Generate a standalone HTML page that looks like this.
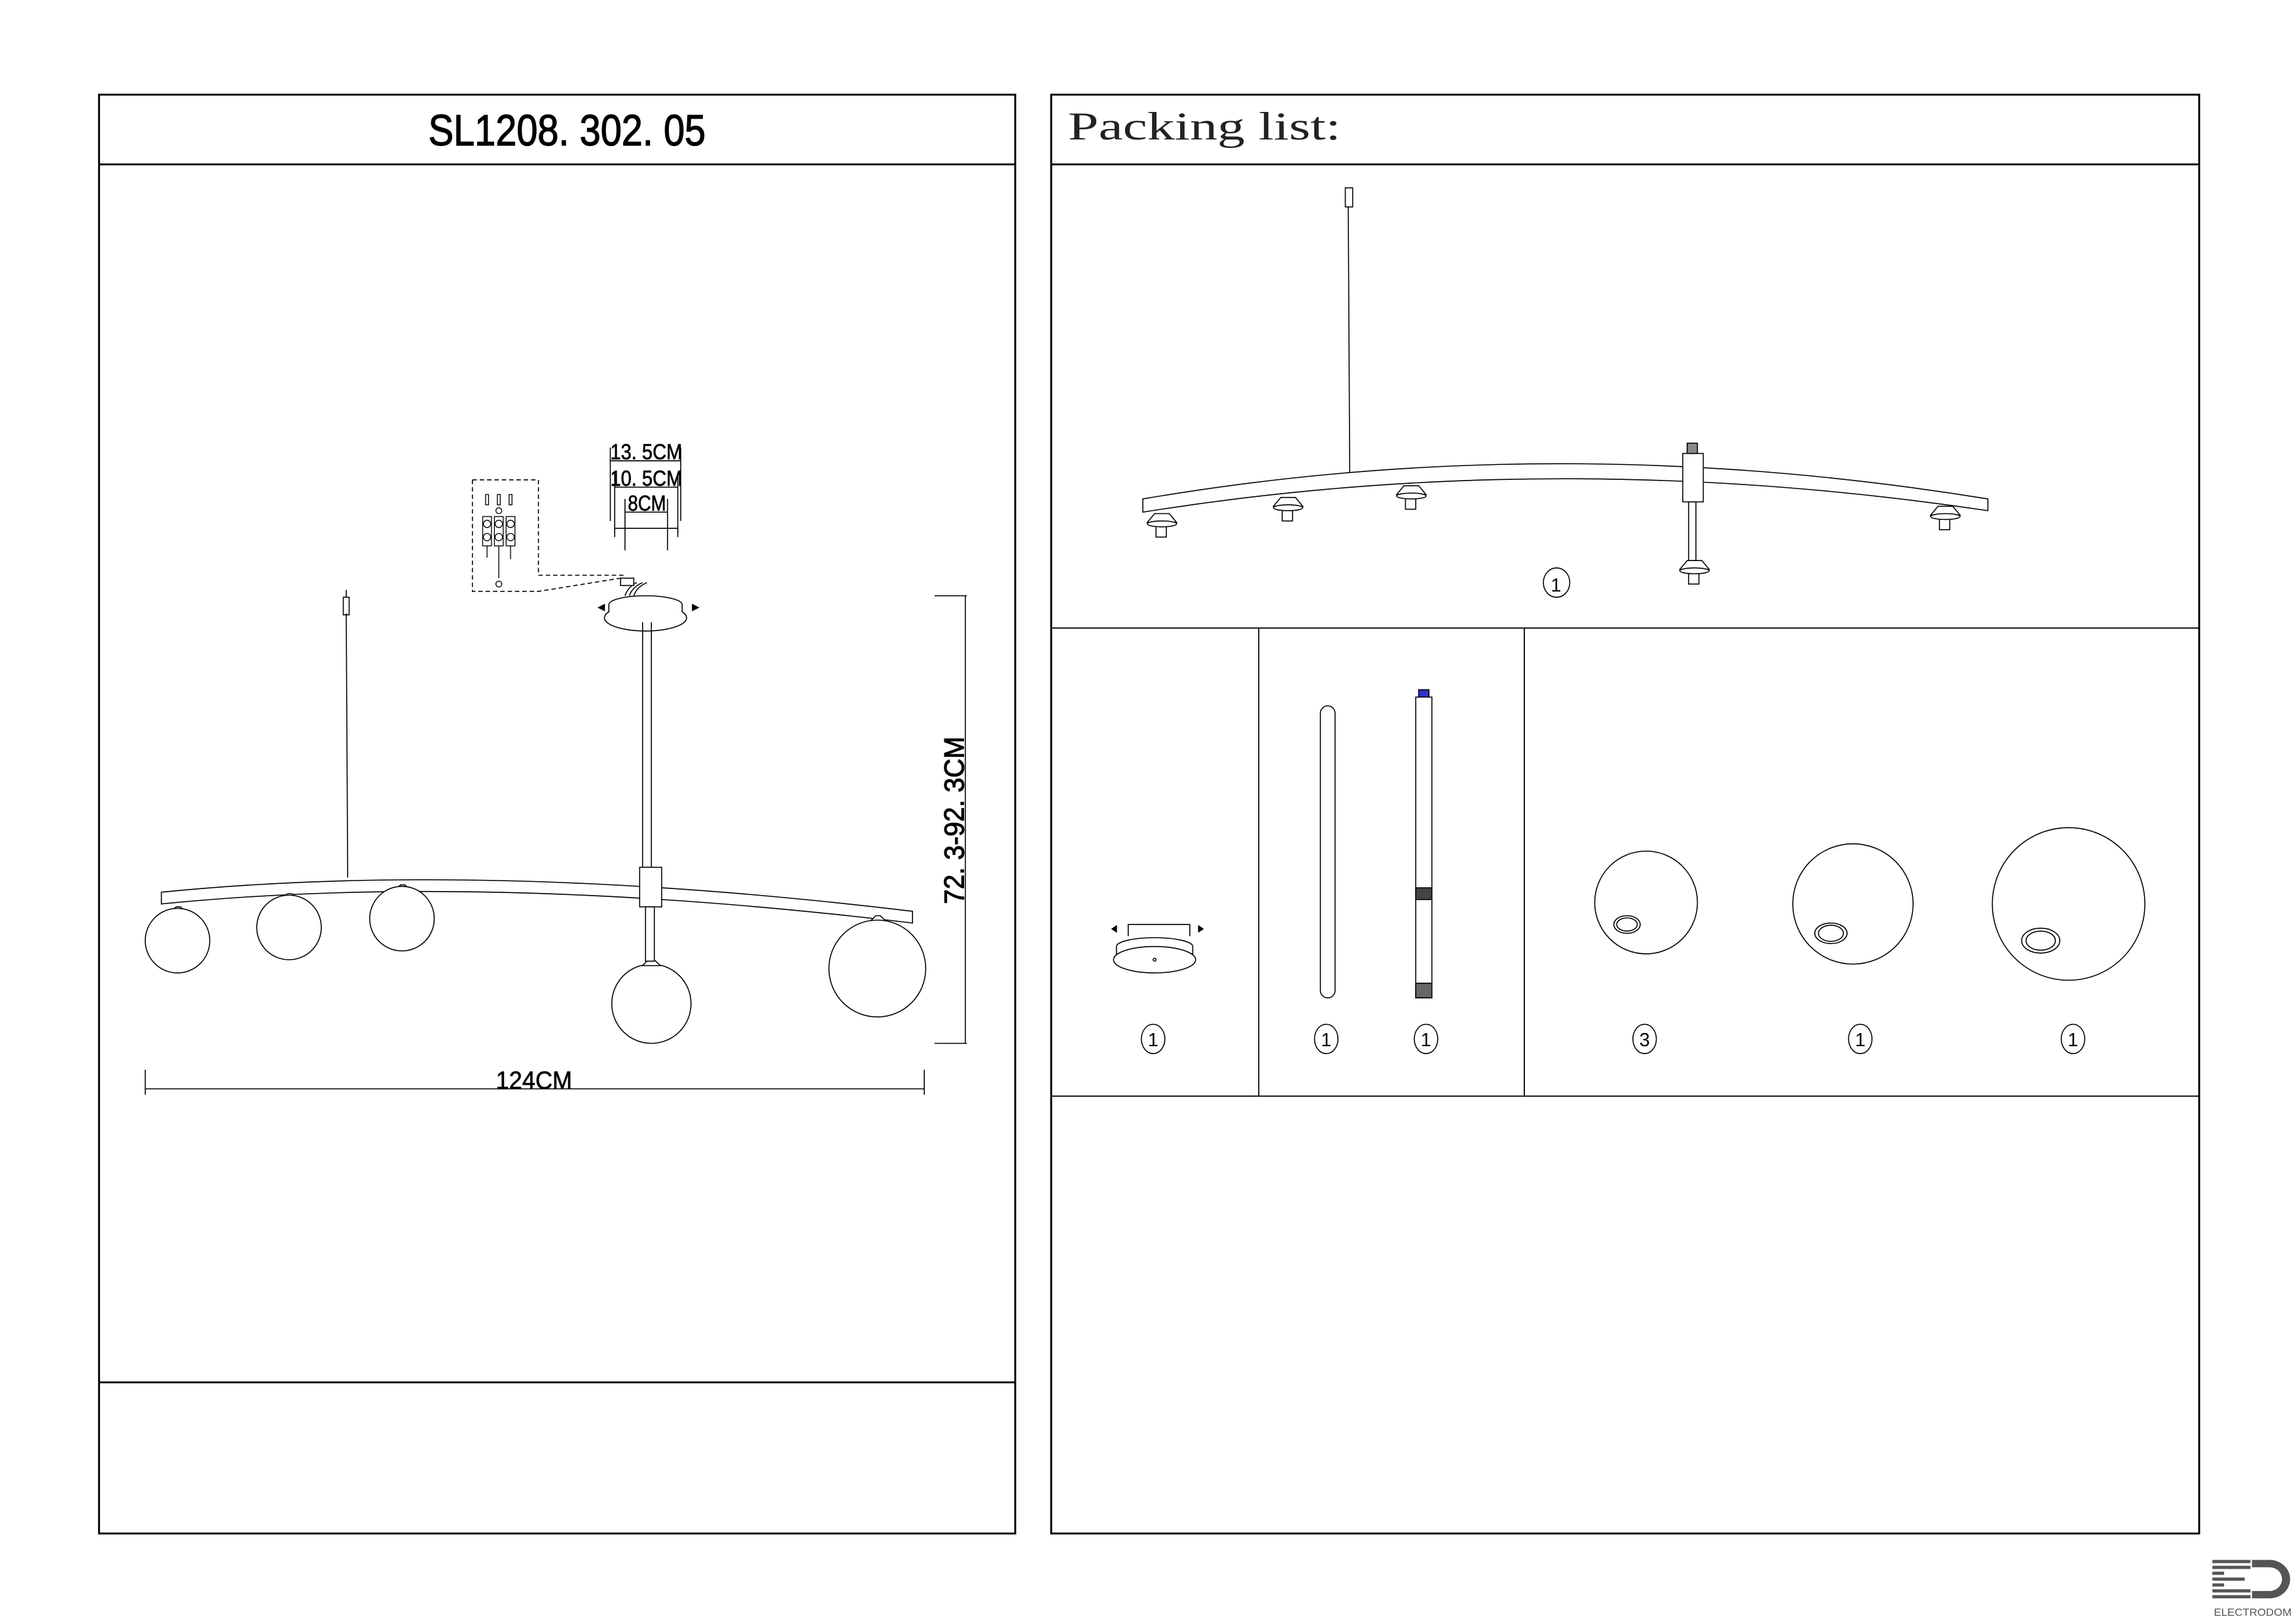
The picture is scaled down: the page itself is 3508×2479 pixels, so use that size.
<!DOCTYPE html>
<html><head><meta charset="utf-8"><style>
html,body{margin:0;padding:0;background:#fff;width:3508px;height:2479px;overflow:hidden}
svg{display:block}
text{font-family:"Liberation Sans",sans-serif}
</style></head><body>
<svg width="3508" height="2479" viewBox="0 0 1565 1106" preserveAspectRatio="none" xmlns="http://www.w3.org/2000/svg">
<g fill="none" stroke="#000" stroke-width="1.3">
<rect x="67.5" y="64.5" width="624.5" height="980.5"/>
<line x1="67.5" y1="112" x2="692" y2="112"/>
<line x1="67.5" y1="942" x2="692" y2="942"/>
<rect x="716.5" y="64.5" width="782.5" height="980.5"/>
<line x1="716.5" y1="112" x2="1499" y2="112"/>
<line x1="716.5" y1="428" x2="1499" y2="428" stroke-width="0.8"/>
<line x1="716.5" y1="747" x2="1499" y2="747" stroke-width="0.8"/>
<line x1="858" y1="428" x2="858" y2="747" stroke-width="0.8"/>
<line x1="1039" y1="428" x2="1039" y2="747" stroke-width="0.8"/>
</g>
<text x="292" y="99" font-size="30" stroke="#000" stroke-width="0.6" textLength="189" lengthAdjust="spacingAndGlyphs">SL1208. 302. 05</text>
<text x="728" y="95" font-size="27" fill="#222" textLength="186" lengthAdjust="spacingAndGlyphs" style="font-family:'Liberation Serif',serif">Packing list:</text>

<!-- LEFT DRAWING -->
<g fill="none" stroke="#000" stroke-width="0.7">
<line x1="236" y1="418" x2="237" y2="598"/>
<rect x="234" y="407" width="4" height="12"/>
<line x1="236" y1="402" x2="236" y2="407"/>
<path d="M110 608 Q330 586 622 621 L622 629 Q330 594 110 616 Z" fill="#fff"/>
<g fill="#fff">
<path d="M116 622 l4 -4 h3 l4 4 z"/><circle cx="121" cy="641" r="22"/>
<path d="M192 613 l4 -4 h3 l4 4 z"/><circle cx="197" cy="632" r="22"/>
<path d="M269 607 l4 -4 h3 l4 4 z"/><circle cx="274" cy="626" r="22"/>
<path d="M593 628 l4 -4 h3 l4 4 z"/><circle cx="598" cy="660" r="33"/>
<circle cx="444" cy="684" r="27"/>
<path d="M438 658 l4 -4 h4 l4 4 z"/>
</g>
<rect x="438" y="424" width="6" height="167" fill="#fff"/>
<rect x="436" y="591" width="15" height="27" fill="#fff"/>
<rect x="440" y="618" width="6" height="37" fill="#fff"/>
<ellipse cx="440" cy="421" rx="28" ry="9" fill="#fff"/>
<path d="M415 417 v-5 a25 6 0 0 1 50 0 v5" fill="#fff"/>
<line x1="438" y1="424" x2="438" y2="436"/><line x1="444" y1="424" x2="444" y2="436"/>
<path d="M426 406 q2 -6 8 -9 M429 406 q2 -6 9 -9 M432 406 q2 -6 9 -9"/>
<rect x="423" y="394" width="9" height="5" fill="#fff"/>
<path d="M412 412 l-4 2 4 2 z M472 412 l4 2 -4 2 z" fill="#000"/>
<path d="M322 327 h45 v65 h58 M322 327 v76 h45 l56 -9" stroke-dasharray="3 2"/>
<g stroke-width="0.6">
<rect x="329" y="352" width="6" height="20"/><rect x="337" y="352" width="6" height="20"/><rect x="345" y="352" width="6" height="20"/>
<circle cx="332" cy="357" r="2.5"/><circle cx="340" cy="357" r="2.5"/><circle cx="348" cy="357" r="2.5"/>
<circle cx="332" cy="366" r="2.5"/><circle cx="340" cy="366" r="2.5"/><circle cx="348" cy="366" r="2.5"/>
<rect x="331" y="337" width="2" height="7"/><rect x="339" y="337" width="2" height="7"/><rect x="347" y="337" width="2" height="7"/>
<circle cx="340" cy="348" r="2"/><circle cx="340" cy="398" r="2"/>
<line x1="332" y1="372" x2="332" y2="380"/><line x1="340" y1="372" x2="340" y2="394"/><line x1="348" y1="372" x2="348" y2="381"/>
</g>
<g stroke-width="0.7">
<line x1="416" y1="314" x2="464" y2="314"/>
<line x1="419" y1="332" x2="462" y2="332"/>
<line x1="426" y1="349" x2="455" y2="349"/>
<line x1="416" y1="305" x2="416" y2="355"/><line x1="464" y1="305" x2="464" y2="355"/>
<line x1="419" y1="322" x2="419" y2="363"/><line x1="462" y1="322" x2="462" y2="363"/>
<line x1="426" y1="340" x2="426" y2="375"/><line x1="455" y1="340" x2="455" y2="375"/>
<path d="M419 366 v-6 h43 v6"/>
</g>
<line x1="658" y1="406" x2="658" y2="711"/>
<line x1="637" y1="406" x2="659" y2="406"/>
<line x1="637" y1="711" x2="659" y2="711"/>
<line x1="99" y1="742" x2="630" y2="742"/>
<line x1="99" y1="729" x2="99" y2="746"/>
<line x1="630" y1="729" x2="630" y2="746"/>
</g>
<g font-size="15" stroke="#000" stroke-width="0.3">
<text x="416" y="313" textLength="49" lengthAdjust="spacingAndGlyphs">13. 5CM</text>
<text x="416" y="331" textLength="49" lengthAdjust="spacingAndGlyphs">10. 5CM</text>
<text x="428" y="348" textLength="26" lengthAdjust="spacingAndGlyphs">8CM</text>
<text x="338" y="742" font-size="17" textLength="52" lengthAdjust="spacingAndGlyphs">124CM</text>
<text transform="translate(657,616) rotate(-90)" font-size="19" stroke-width="0.5" textLength="114" lengthAdjust="spacingAndGlyphs">72. 3-92. 3CM</text>
</g>

<!-- RIGHT TOP -->
<g fill="none" stroke="#000" stroke-width="0.7">
<line x1="919" y1="141" x2="920" y2="322"/>
<rect x="917" y="128" width="5" height="13" fill="#fff"/>
<path d="M779 340 Q1060 292 1355 340 L1355 348 Q1060 304 779 349 Z" fill="#fff"/>
<rect x="1147" y="309" width="14" height="33" fill="#fff"/>
<rect x="1150" y="302" width="7" height="7" fill="#888"/>
<rect x="1151" y="342" width="5" height="40" fill="#fff"/>
<g fill="#fff">
<path d="M787 350 l-5 6 h20 l-5 -6 z"/><rect x="788" y="358" width="7" height="8"/><ellipse cx="792" cy="357" rx="10" ry="2"/>
<path d="M873 339 l-5 6 h20 l-5 -6 z"/><rect x="874" y="347" width="7" height="8"/><ellipse cx="878" cy="346" rx="10" ry="2"/>
<path d="M957 331 l-5 6 h20 l-5 -6 z"/><rect x="958" y="339" width="7" height="8"/><ellipse cx="962" cy="338" rx="10" ry="2"/>
<path d="M1321 345 l-5 6 h20 l-5 -6 z"/><rect x="1322" y="353" width="7" height="8"/><ellipse cx="1326" cy="352" rx="10" ry="2"/>
<path d="M1150 382 l-5 6 h20 l-5 -6 z"/><rect x="1151" y="390" width="7" height="8"/><ellipse cx="1155" cy="389" rx="10" ry="2"/>
</g>
<ellipse cx="1061" cy="397" rx="9" ry="10"/>
</g>
<text x="1057" y="403" font-size="13">1</text>

<!-- BOTTOM ROW -->
<g fill="none" stroke="#000" stroke-width="0.7">
<path d="M769 638 v-8 h42 v8"/>
<path d="M761 631 l-3 2 3 2 z M817 631 l3 2 -3 2 z" fill="#000"/>
<path d="M761 654 v-9 a26 6 0 0 1 52 0 v9" fill="#fff"/>
<ellipse cx="787" cy="654" rx="28" ry="9" fill="#fff"/>
<circle cx="787" cy="654" r="1"/>
<rect x="900" y="481" width="10" height="199" rx="5"/>
<rect x="965" y="475" width="11" height="205"/>
<rect x="967" y="470" width="7" height="5" fill="#33c"/>
<rect x="965" y="605" width="11" height="8" fill="#444"/>
<rect x="965" y="670" width="11" height="10" fill="#666"/>
<circle cx="1122" cy="615" r="35"/>
<ellipse cx="1109" cy="630" rx="9" ry="6"/><ellipse cx="1109" cy="630" rx="7" ry="4.5"/>
<circle cx="1263" cy="616" r="41"/>
<ellipse cx="1248" cy="636" rx="11" ry="7"/><ellipse cx="1248" cy="636" rx="8.5" ry="5.5"/>
<circle cx="1410" cy="616" r="52"/>
<ellipse cx="1391" cy="641" rx="13" ry="8.5"/><ellipse cx="1391" cy="641" rx="10" ry="6.5"/>
<ellipse cx="786" cy="708" rx="8" ry="10"/>
<ellipse cx="904" cy="708" rx="8" ry="10"/>
<ellipse cx="972" cy="708" rx="8" ry="10"/>
<ellipse cx="1121" cy="708" rx="8" ry="10"/>
<ellipse cx="1268" cy="708" rx="8" ry="10"/>
<ellipse cx="1413" cy="708" rx="8" ry="10"/>
</g>
<g font-size="13" text-anchor="middle">
<text x="786" y="713">1</text><text x="904" y="713">1</text><text x="972" y="713">1</text>
<text x="1121" y="713">3</text><text x="1268" y="713">1</text><text x="1413" y="713">1</text>
</g>

<!-- LOGO -->
<g fill="#555">
<rect x="1508" y="1063" width="26" height="2.2"/><rect x="1508" y="1067" width="26" height="2.2"/>
<rect x="1508" y="1071" width="8" height="2.2"/><rect x="1508" y="1075" width="22" height="2.2"/>
<rect x="1508" y="1079" width="8" height="2.2"/><rect x="1508" y="1083" width="26" height="2.2"/>
<rect x="1508" y="1087" width="26" height="2.2"/>
<path d="M1535 1063 h12 a14 13.1 0 0 1 0 26.2 h-12 v-5 h12 a8.5 8.1 0 0 0 0 -16.2 h-12 z"/>
</g>
<text x="1509" y="1101" font-size="7" fill="#555" textLength="53" lengthAdjust="spacingAndGlyphs">ELECTRODOM</text>
</svg>
</body></html>
